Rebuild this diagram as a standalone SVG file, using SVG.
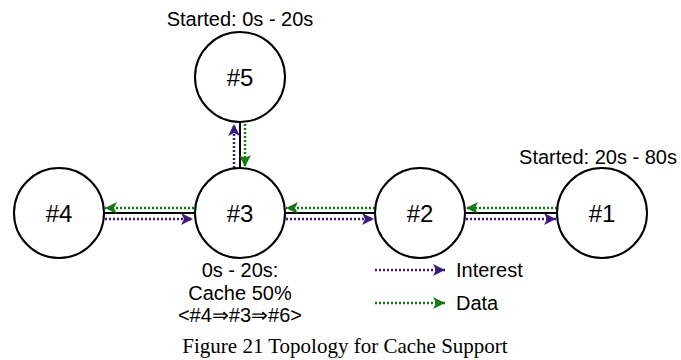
<svg xmlns="http://www.w3.org/2000/svg" width="681" height="360" viewBox="0 0 681 360">
<defs>
<marker id="ai" viewBox="0 0 12 12" refX="12" refY="6" markerWidth="12" markerHeight="12" markerUnits="userSpaceOnUse" orient="auto"><path d="M0,0 L12,6 L0,12 L3,6 Z" fill="#3d1a7a"/></marker>
<marker id="ad" viewBox="0 0 12 12" refX="12" refY="6" markerWidth="12" markerHeight="12" markerUnits="userSpaceOnUse" orient="auto"><path d="M0,0 L12,6 L0,12 L3,6 Z" fill="#137a13"/></marker>
</defs>
<style>
.node circle{fill:#fff;stroke:#000;stroke-width:2}
.lbl{font-family:"Liberation Sans",Arial,sans-serif;font-size:24px;text-anchor:middle;fill:#000}
.t{font-family:"Liberation Sans",Arial,sans-serif;font-size:20px;fill:#000}
.link{stroke:#000;stroke-width:2;fill:none}
.int{stroke:#3d1a7a;stroke-width:2.5;stroke-dasharray:2 2;fill:none;marker-end:url(#ai)}
.dat{stroke:#137a13;stroke-width:2.5;stroke-dasharray:2 2;fill:none;marker-end:url(#ad)}
.cap{font-family:"Liberation Serif","Times New Roman",serif;font-size:21px;text-anchor:middle;fill:#000}
</style>
<rect width="681" height="360" fill="#fff"/>
<g id="connectors">
<line class="link" x1="104" y1="213" x2="194" y2="213"/>
<line class="link" x1="285" y1="213" x2="375" y2="213"/>
<line class="link" x1="465" y1="213" x2="557" y2="213"/>
<line class="link" x1="240" y1="122" x2="240" y2="168"/>
<path class="dat" d="M194,208 H105"/>
<path class="int" d="M105,219 H193"/>
<path class="dat" d="M375,208 H286"/>
<path class="int" d="M286,219 H374"/>
<path class="dat" d="M557,208 H466"/>
<path class="int" d="M466,219 H556"/>
<path class="int" d="M234,168 V124"/>
<path class="dat" d="M245,124 V167"/>
</g>
<g id="n5" class="node"><circle cx="240" cy="77" r="45"/><text class="lbl" x="240" y="86">#5</text></g>
<g id="n4" class="node"><circle cx="59" cy="213" r="45"/><text class="lbl" x="59" y="222">#4</text></g>
<g id="n3" class="node"><circle cx="240" cy="213" r="45"/><text class="lbl" x="240" y="222">#3</text></g>
<g id="n2" class="node"><circle cx="420" cy="213" r="45"/><text class="lbl" x="420" y="222">#2</text></g>
<g id="n1" class="node"><circle cx="602" cy="213" r="45"/><text class="lbl" x="602" y="222">#1</text></g>
<text class="t" x="240" y="26" text-anchor="middle">Started: 0s - 20s</text>
<text class="t" x="598" y="164" text-anchor="middle">Started: 20s - 80s</text>
<text class="t" x="240" y="277" text-anchor="middle">0s - 20s:</text>
<text class="t" x="240" y="300" text-anchor="middle">Cache 50%</text>
<text class="t" x="240" y="322" text-anchor="middle">&lt;#4⇒#3⇒#6&gt;</text>
<g id="legend">
<path class="int" d="M375,270 H445"/>
<text class="t" x="456" y="277">Interest</text>
<path class="dat" d="M375,303 H445"/>
<text class="t" x="456" y="310">Data</text>
</g>
<text class="cap" x="345" y="353">Figure 21 Topology for Cache Support</text>
</svg>
